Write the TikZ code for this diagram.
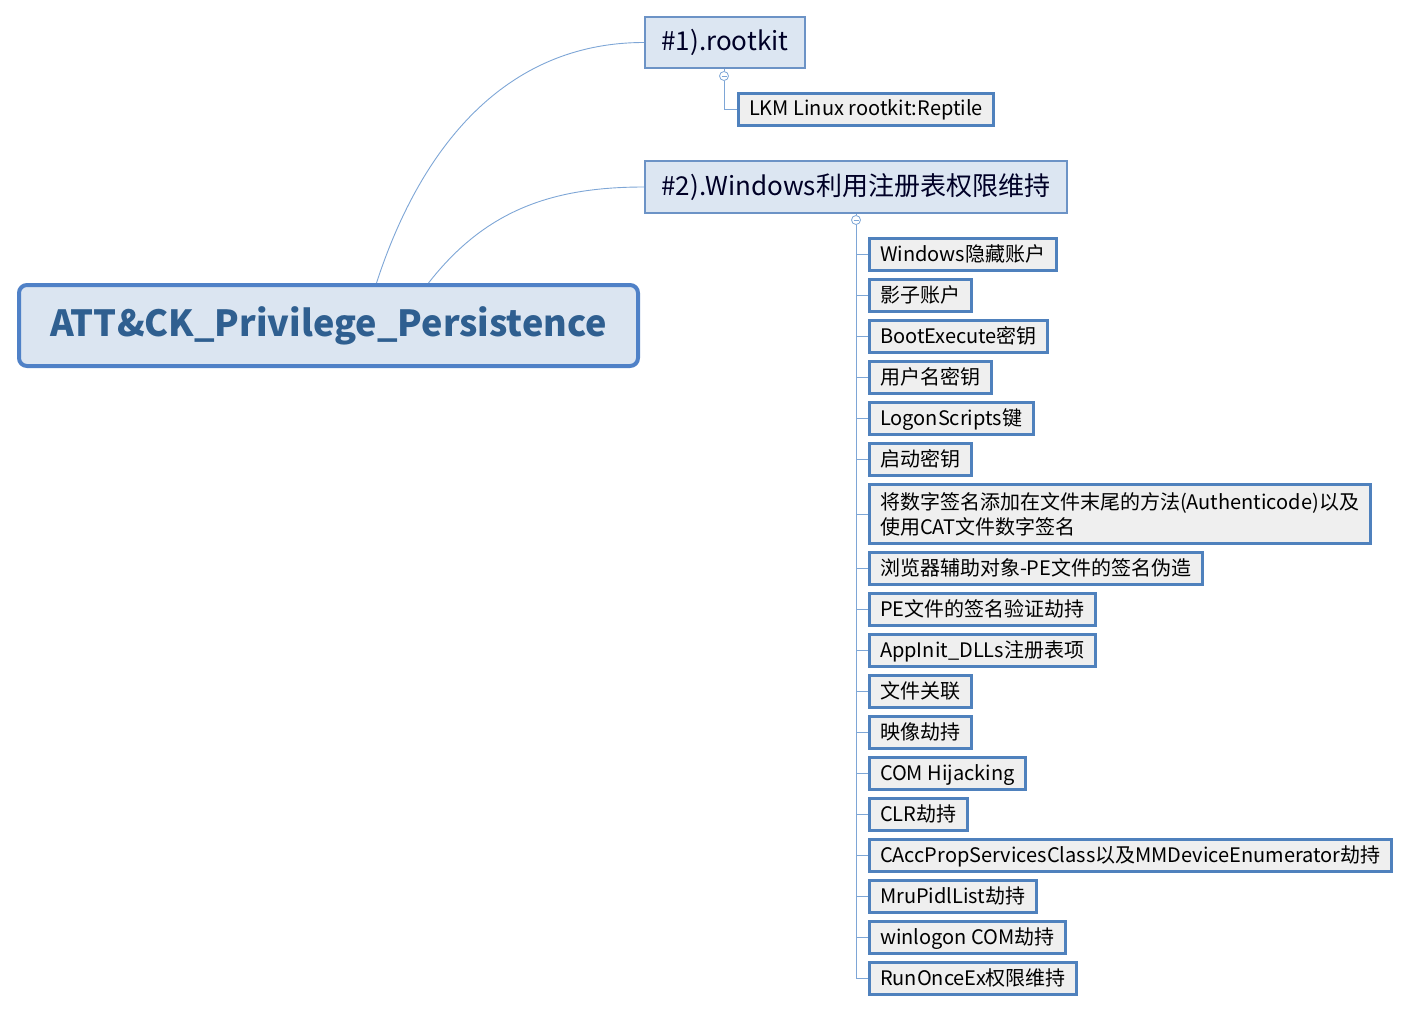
\documentclass[tikz,border=0pt]{standalone}
\usepackage{fontspec}
\setmainfont{Noto Sans CJK SC}
\usetikzlibrary{positioning}
\definecolor{rootfill}{HTML}{DBE5F1}
\definecolor{rootline}{HTML}{4F81C7}
\definecolor{roottext}{HTML}{2F5F90}
\definecolor{mainfill}{HTML}{DCE6F2}
\definecolor{mainline}{HTML}{6C93C6}
\definecolor{subfill}{HTML}{EFEFEF}
\definecolor{subline}{HTML}{4F81BD}
\definecolor{linkcol}{HTML}{7EA6D6}

\tikzset{
  rootbox/.style={draw=rootline, fill=rootfill, line width=4pt, rounded corners=8pt,
    minimum width=619pt, minimum height=81pt, text=roottext, font=\fontsize{36}{40}\selectfont\bfseries},
  mainbox/.style={draw=mainline, fill=mainfill, line width=2pt, minimum height=51pt,
    inner xsep=16.5pt, text height=22pt, text depth=5pt,
    text=black!85!blue, font=\fontsize{26}{30}\selectfont, anchor=west},
  subbase/.style={draw=subline, fill=subfill, line width=3pt, minimum height=32pt,
    inner xsep=11pt, font=\fontsize{20}{25}\selectfont, anchor=west, align=left},
  subone/.style={subbase, text height=17pt, text depth=4pt},
  subtwo/.style={subbase, minimum height=59pt, inner ysep=5pt},
  link/.style={draw=linkcol, line width=0.9pt},
  foldmark/.style={circle, draw=linkcol, fill=white, line width=0.8pt, minimum size=9pt, inner sep=0pt,
    path picture={\draw[linkcol, line width=0.7pt] ([xshift=-2.5pt]path picture bounding box.center) -- ([xshift=2.5pt]path picture bounding box.center);}}
}

\begin{document}
\begin{tikzpicture}[x=1pt, y=-1pt]
\useasboundingbox (0,0) rectangle (1419,1014);

% main topic
\node[rootbox] (root) at (328.5,325.5) {ATT\&CK\_Privilege\_Persistence};

% first branch
\node[mainbox] (rk) at (644,42.5) {\#1).rootkit};
\node[foldmark] (fold1) at (724,76) {};
\node[subone] (lkm) at (736.5,109.5) {LKM Linux rootkit:Reptile};

% second branch
\node[mainbox] (win) at (644,187) {\#2).Windows利用注册表权限维持};
\node[foldmark] (fold2) at (856,220) {};

\draw[link] ([xshift=48pt]root.north) to[out=72,in=180] (rk.west);
\draw[link] ([xshift=100pt]root.north) to[out=52,in=180] (win.west);
\draw[link] (rk.south -| fold1) -- (fold1.north);
\draw[link] (win.south -| fold2) -- (fold2.north);
\draw[link] (fold1.south) |- (lkm.west);

\foreach \y/\s/\t [count=\i] in {
  254.5/subone/Windows隐藏账户,
  295.5/subone/影子账户,
  336.5/subone/BootExecute密钥,
  377.5/subone/用户名密钥,
  418.5/subone/LogonScripts键,
  459.5/subone/启动密钥,
  514/subtwo/{将数字签名添加在文件末尾的方法(Authenticode)以及\\使用CAT文件数字签名},
  568.5/subone/浏览器辅助对象-PE文件的签名伪造,
  609.5/subone/PE文件的签名验证劫持,
  650.5/subone/AppInit\_DLLs注册表项,
  691.5/subone/文件关联,
  732.5/subone/映像劫持,
  773.5/subone/COM Hijacking,
  814.5/subone/CLR劫持,
  855.5/subone/CAccPropServicesClass以及MMDeviceEnumerator劫持,
  896.5/subone/MruPidlList劫持,
  937.5/subone/winlogon COM劫持,
  978.5/subone/RunOnceEx权限维持}
{
  \node[\s] (c\i) at (867.5,\y) {\t};
  \draw[link] (fold2.south) |- (c\i.west);
}
\end{tikzpicture}
\end{document}
